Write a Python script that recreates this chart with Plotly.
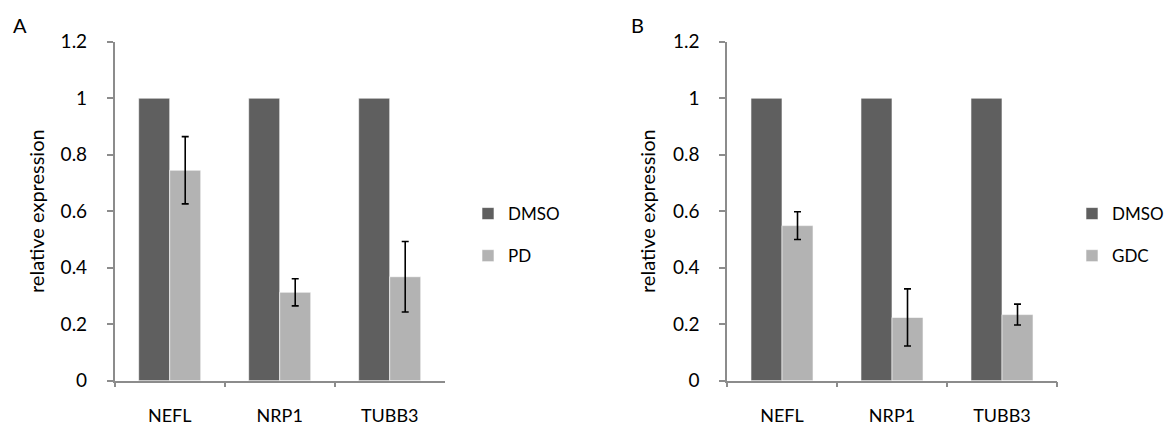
import plotly.graph_objects as go

categories = ["NEFL", "NRP1", "TUBB3"]
dmso_a = [1.0, 1.0, 1.0]
pd_a = [0.745, 0.313, 0.368]
pd_a_err = [0.119, 0.048, 0.125]
dmso_b = [1.0, 1.0, 1.0]
gdc_b = [0.549, 0.224, 0.234]
gdc_b_err = [0.049, 0.101, 0.037]
yticks = [0, 0.2, 0.4, 0.6, 0.8, 1, 1.2]
yticktext = ["0", "0.2", "0.4", "0.6", "0.8", "1", "1.2"]

FONT = "Lato, 'Open Sans', sans-serif"
DARK = "#5f5f5f"
LIGHT = "#b3b3b3"
AXIS = "#8c8c8c"

# the page body has an 8px margin; the figure fills the rest of the window
OFF = 8
W, H = 1173 - OFF, 425 - OFF


def px(x):
    return (x - OFF) / W


def py(y):
    return 1 - (y - OFF) / H


fig = go.Figure()
err_style = dict(type="data", visible=True, color="black", thickness=1.6, width=3.5)

fig.add_trace(go.Bar(x=categories, y=dmso_a, name="DMSO", marker=dict(color=DARK, line=dict(color="white", width=0.6)),
                     xaxis="x", yaxis="y", legend="legend", legendgroup="a1"))
fig.add_trace(go.Bar(x=categories, y=pd_a, name="PD", marker=dict(color=LIGHT, line=dict(color="white", width=0.6)),
                     error_y=dict(array=pd_a_err, **err_style),
                     xaxis="x", yaxis="y", legend="legend", legendgroup="a2"))
fig.add_trace(go.Bar(x=categories, y=dmso_b, name="DMSO", marker=dict(color=DARK, line=dict(color="white", width=0.6)),
                     xaxis="x2", yaxis="y2", legend="legend2", legendgroup="b1"))
fig.add_trace(go.Bar(x=categories, y=gdc_b, name="GDC", marker=dict(color=LIGHT, line=dict(color="white", width=0.6)),
                     error_y=dict(array=gdc_b_err, **err_style),
                     xaxis="x2", yaxis="y2", legend="legend2", legendgroup="b2"))

ydom = [py(380.7), py(41.7)]

xax = dict(showline=True, linecolor=AXIS, linewidth=1.5, ticks="outside", tickson="boundaries",
           ticklen=5, tickcolor=AXIS, tickwidth=1.5, showgrid=False, zeroline=False, automargin=False,
           tickfont=dict(family=FONT, size=18, color="black"), ticklabelstandoff=18, fixedrange=True)
yax = dict(range=[0, 1.2], tickvals=yticks, ticktext=yticktext, showline=True, linecolor=AXIS,
           linewidth=1.5, ticks="outside", ticklen=6, tickcolor=AXIS, tickwidth=1.5, showgrid=False,
           zeroline=False, automargin=False, tickfont=dict(family=FONT, size=19, color="black"),
           ticklabelstandoff=16, fixedrange=True)

legend_style = dict(font=dict(family=FONT, size=17, color="black"), bgcolor="rgba(0,0,0,0)",
                    tracegroupgap=17, itemwidth=30, xanchor="left", yanchor="top", traceorder="grouped")

title_font = dict(family=FONT, size=20, color="black")
fig.update_layout(
    width=W, height=H,
    margin=dict(l=0, r=0, t=0, b=0, autoexpand=False),
    paper_bgcolor="white", plot_bgcolor="white",
    barmode="group", bargap=0.436, bargroupgap=0,
    xaxis=dict(domain=[px(114.7), px(444.7)], anchor="y", **xax),
    yaxis=dict(domain=ydom, anchor="x", **yax),
    xaxis2=dict(domain=[px(727), px(1057)], anchor="y2", **xax),
    yaxis2=dict(domain=ydom, anchor="x2", **yax),
    legend=dict(x=px(468), y=py(196), **legend_style),
    legend2=dict(x=px(1072), y=py(196), **legend_style),
    annotations=[
        dict(text="A", x=px(20), y=py(25), xref="paper", yref="paper", showarrow=False,
             font=title_font, xanchor="center", yanchor="middle"),
        dict(text="B", x=px(637), y=py(25), xref="paper", yref="paper", showarrow=False,
             font=title_font, xanchor="center", yanchor="middle"),
        dict(text="relative expression", x=px(36), y=py(211), xref="paper", yref="paper",
             showarrow=False, textangle=-90, font=title_font, xanchor="center", yanchor="middle"),
        dict(text="relative expression", x=px(647), y=py(211), xref="paper", yref="paper",
             showarrow=False, textangle=-90, font=title_font, xanchor="center", yanchor="middle"),
    ],
)

fig.write_html("out.html")
